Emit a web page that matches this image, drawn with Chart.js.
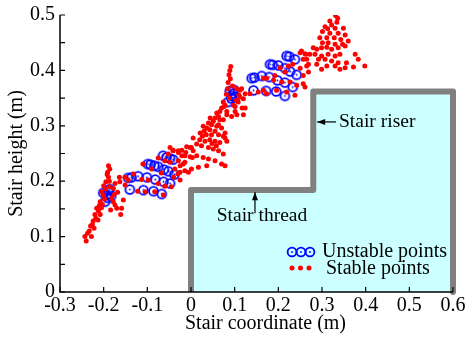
<!DOCTYPE html>
<html>
<head>
<meta charset="utf-8">
<script src="https://cdn.jsdelivr.net/npm/chart.js@4.4.1/dist/chart.umd.min.js"></script>
<style>
  html, body { margin: 0; padding: 0; background: #fff; }
  #wrap { width: 465px; height: 338px; }
</style>
</head>
<body>
<div id="wrap"><canvas id="stairChart" width="465" height="338"></canvas></div>
<script>
/* Stair stability scatter — unstable / stable foot points over the stair profile */

const xTicks = [-0.3, -0.2, -0.1, 0, 0.1, 0.2, 0.3, 0.4, 0.5, 0.6];
const yTicks = [0, 0.05, 0.1, 0.15, 0.2, 0.25, 0.3, 0.35, 0.4, 0.45, 0.5];

// stair profile (thread then riser)
const stairX = [0, 0, 0.28, 0.28, 0.6, 0.6];
const stairY = [0, 0.184, 0.184, 0.362, 0.362, 0];

const unstableLow = [
    [-0.189, 0.183], [-0.193, 0.175], [-0.183, 0.173], [-0.197, 0.163], [-0.186, 0.186], [-0.201, 0.179], [-0.190, 0.170],
    [-0.064, 0.246], [-0.056, 0.243], [-0.048, 0.241], [-0.041, 0.239],
    [-0.099, 0.231], [-0.093, 0.230], [-0.084, 0.228], [-0.075, 0.226], [-0.062, 0.221], [-0.052, 0.218], [-0.038, 0.212],
    [-0.144, 0.206], [-0.136, 0.207], [-0.121, 0.209], [-0.101, 0.207], [-0.082, 0.203], [-0.063, 0.199], [-0.048, 0.196],
    [-0.140, 0.185], [-0.109, 0.184], [-0.086, 0.182], [-0.067, 0.177]
];
const unstableHigh = [
    [0.089, 0.363], [0.097, 0.358], [0.093, 0.354], [0.101, 0.352], [0.085, 0.343], [0.093, 0.349], [0.098, 0.365],
    [0.219, 0.426], [0.225, 0.425], [0.238, 0.420],
    [0.181, 0.411], [0.187, 0.410], [0.200, 0.409], [0.215, 0.404], [0.227, 0.398], [0.242, 0.392],
    [0.139, 0.386], [0.145, 0.387], [0.162, 0.390], [0.179, 0.388], [0.198, 0.382], [0.215, 0.378], [0.233, 0.370],
    [0.143, 0.364], [0.172, 0.363], [0.195, 0.362], [0.215, 0.354]
];

const stableLeft = [
    [-0.240, 0.092], [-0.237, 0.106], [-0.233, 0.110], [-0.230, 0.119], [-0.224, 0.128], [-0.220, 0.140], [-0.216, 0.151],
    [-0.208, 0.140], [-0.208, 0.163], [-0.201, 0.175], [-0.228, 0.100], [-0.222, 0.115], [-0.213, 0.130], [-0.212, 0.146],
    [-0.205, 0.152], [-0.203, 0.158], [-0.198, 0.168], [-0.243, 0.100], [-0.226, 0.122], [-0.218, 0.133], [-0.210, 0.156],
    [-0.189, 0.228], [-0.186, 0.222], [-0.191, 0.216], [-0.189, 0.207], [-0.195, 0.199], [-0.192, 0.212], [-0.186, 0.190],
    [-0.205, 0.181], [-0.196, 0.186], [-0.200, 0.192], [-0.187, 0.200],
    [-0.182, 0.169], [-0.178, 0.163], [-0.174, 0.157], [-0.184, 0.148], [-0.170, 0.151], [-0.161, 0.140], [-0.159, 0.151],
    [-0.155, 0.166], [-0.178, 0.187], [-0.174, 0.196], [-0.163, 0.199], [-0.151, 0.193], [-0.144, 0.202], [-0.164, 0.207],
    [-0.151, 0.207], [-0.168, 0.180], [-0.176, 0.176]
];
const stableLower = [
    [-0.132, 0.213], [-0.113, 0.203], [-0.098, 0.202], [-0.075, 0.196], [-0.060, 0.191], [-0.045, 0.190], [-0.105, 0.181],
    [-0.083, 0.181], [-0.063, 0.175], [-0.122, 0.182],
    [-0.075, 0.242], [-0.060, 0.237], [-0.048, 0.234], [-0.037, 0.222], [-0.025, 0.228], [-0.014, 0.234], [-0.014, 0.219],
    [-0.025, 0.202], [-0.048, 0.261], [-0.041, 0.256], [-0.029, 0.255], [-0.021, 0.246], [-0.012, 0.252], [-0.002, 0.261],
    [0.005, 0.255], [0.003, 0.243], [-0.110, 0.231], [-0.090, 0.222], [-0.068, 0.215], [-0.040, 0.207], [-0.030, 0.213]
];
const stableMid = [
    [0.091, 0.407], [0.089, 0.400], [0.087, 0.392], [0.090, 0.385], [0.085, 0.378], [0.084, 0.367], [0.110, 0.355],
    [0.104, 0.346], [0.120, 0.349], [0.097, 0.337], [0.117, 0.332], [0.078, 0.337], [0.070, 0.332], [0.066, 0.326],
    [0.059, 0.323], [0.063, 0.317], [0.055, 0.314], [0.074, 0.311], [0.051, 0.308], [0.047, 0.302], [0.040, 0.305],
    [0.036, 0.296], [0.030, 0.290], [0.043, 0.293], [0.055, 0.290], [0.063, 0.284], [0.026, 0.281], [0.020, 0.275],
    [0.032, 0.272], [0.043, 0.275], [0.055, 0.272], [0.066, 0.270], [0.078, 0.278], [0.013, 0.267], [0.024, 0.264],
    [0.040, 0.261], [0.051, 0.258], [0.063, 0.255], [0.074, 0.249], [-0.010, 0.262], [0.001, 0.261], [-0.021, 0.256],
    [-0.029, 0.252], [-0.041, 0.255], [-0.014, 0.246], [-0.002, 0.244], [0.013, 0.246], [0.028, 0.243], [0.040, 0.240],
    [0.055, 0.237], [0.070, 0.231], [0.078, 0.228], [-0.018, 0.231], [0.001, 0.222], [0.017, 0.225], [0.036, 0.228],
    [-0.025, 0.216], [-0.006, 0.216], [-0.029, 0.237], [-0.052, 0.249], [0.101, 0.326], [0.093, 0.317], [0.082, 0.320],
    [0.070, 0.296], [0.078, 0.287], [0.063, 0.302], [0.047, 0.284], [0.005, 0.278], [0.120, 0.320], [0.105, 0.320],
    [0.082, 0.326], [0.074, 0.343], [0.066, 0.311], [0.059, 0.299], [0.044, 0.314], [0.028, 0.299], [0.021, 0.287],
    [0.074, 0.281], [0.082, 0.272], [0.105, 0.367], [0.112, 0.364], [0.112, 0.352], [0.108, 0.343], [0.076, 0.335],
    [0.101, 0.335], [0.088, 0.350], [0.081, 0.357], [0.095, 0.372], [0.058, 0.264], [0.048, 0.268], [0.035, 0.284]
];
const stableUpper = [
    [0.250, 0.432], [0.263, 0.429], [0.257, 0.420], [0.265, 0.408], [0.250, 0.404], [0.269, 0.397], [0.257, 0.391],
    [0.233, 0.411], [0.223, 0.408], [0.204, 0.405], [0.215, 0.397], [0.192, 0.391], [0.173, 0.386], [0.166, 0.386],
    [0.189, 0.382], [0.208, 0.379], [0.227, 0.379], [0.242, 0.373], [0.257, 0.376], [0.196, 0.364], [0.219, 0.361],
    [0.238, 0.355], [0.154, 0.361], [0.173, 0.358], [0.135, 0.358], [0.166, 0.364], [0.261, 0.370], [0.116, 0.367],
    [0.124, 0.358], [0.124, 0.332]
];
const stableTop = [
    [0.331, 0.499], [0.336, 0.494], [0.334, 0.487], [0.318, 0.489], [0.322, 0.482], [0.307, 0.479], [0.313, 0.475],
    [0.330, 0.476], [0.349, 0.476], [0.301, 0.470], [0.318, 0.467], [0.337, 0.467], [0.353, 0.464], [0.295, 0.459],
    [0.311, 0.459], [0.328, 0.459], [0.343, 0.456], [0.360, 0.453], [0.301, 0.450], [0.314, 0.450], [0.330, 0.447],
    [0.347, 0.447], [0.280, 0.441], [0.288, 0.438], [0.299, 0.441], [0.311, 0.442], [0.322, 0.438], [0.337, 0.441],
    [0.353, 0.444], [0.253, 0.435], [0.261, 0.430], [0.272, 0.429], [0.284, 0.429], [0.299, 0.426], [0.314, 0.429],
    [0.330, 0.426], [0.341, 0.429], [0.376, 0.429], [0.265, 0.420], [0.292, 0.420], [0.307, 0.420], [0.322, 0.417],
    [0.337, 0.414], [0.356, 0.414], [0.383, 0.420], [0.269, 0.411], [0.288, 0.411], [0.311, 0.408], [0.330, 0.408],
    [0.353, 0.405], [0.372, 0.406], [0.398, 0.408], [0.299, 0.402], [0.341, 0.402]
];

const unstablePoints = unstableLow.concat(unstableHigh);
const stablePoints = [].concat(stableLeft, stableLower, stableMid, stableUpper, stableTop);

const FONT = '"Liberation Serif", "Times New Roman", serif';
const BLUE = '#0000ff';
const RED = '#ff0000';

function drawRing(g, cx, cy) {
    g.strokeStyle = BLUE;
    g.lineWidth = 1.8;
    g.beginPath();
    g.arc(cx, cy, 4.4, 0, Math.PI * 2);
    g.stroke();
    g.fillStyle = BLUE;
    g.beginPath();
    g.arc(cx, cy, 0.9, 0, Math.PI * 2);
    g.fill();
}

function drawDot(g, cx, cy) {
    g.fillStyle = RED;
    g.beginPath();
    g.arc(cx, cy, 2.5, 0, Math.PI * 2);
    g.fill();
}

const ringImg = document.createElement('canvas');
ringImg.width = ringImg.height = 13;
drawRing(ringImg.getContext('2d'), 6.5, 6.5);

function arrow(ctx, x0, y0, x1, y1) {
    const ang = Math.atan2(y1 - y0, x1 - x0);
    ctx.beginPath();
    ctx.moveTo(x0, y0);
    ctx.lineTo(x1, y1);
    ctx.stroke();
    ctx.beginPath();
    ctx.moveTo(x1, y1);
    ctx.lineTo(x1 - 8 * Math.cos(ang) + 3 * Math.sin(ang), y1 - 8 * Math.sin(ang) - 3 * Math.cos(ang));
    ctx.lineTo(x1 - 8 * Math.cos(ang) - 3 * Math.sin(ang), y1 - 8 * Math.sin(ang) + 3 * Math.cos(ang));
    ctx.closePath();
    ctx.fill();
}

const decor = {
    id: 'decor',
    afterDatasetsDraw(chart) {
        const { ctx, chartArea: a, scales: { x, y } } = chart;
        ctx.save();

        // axes + inward ticks
        ctx.strokeStyle = '#000';
        ctx.lineWidth = 1.5;
        ctx.beginPath();
        ctx.moveTo(a.left, a.top);
        ctx.lineTo(a.left, a.bottom);
        ctx.lineTo(a.right, a.bottom);
        ctx.stroke();
        ctx.lineWidth = 1.2;
        ctx.beginPath();
        yTicks.forEach(v => {
            const py = y.getPixelForValue(v);
            ctx.moveTo(a.left, py);
            ctx.lineTo(a.left + 5, py);
        });
        xTicks.forEach(v => {
            const px = x.getPixelForValue(v);
            ctx.moveTo(px, a.bottom);
            ctx.lineTo(px, a.bottom - 5);
        });
        ctx.stroke();

        // x tick labels
        ctx.fillStyle = '#000';
        ctx.font = '20px ' + FONT;
        ctx.textAlign = 'center';
        ctx.textBaseline = 'middle';
        xTicks.forEach(v => {
            ctx.fillText(String(+v.toFixed(2)), x.getPixelForValue(v), a.bottom + 14);
        });

        // axis titles
        ctx.fillText('Stair coordinate (m)', (a.left + a.right) / 2 + 9, a.bottom + 32);
        ctx.save();
        ctx.translate(17, (a.top + a.bottom) / 2);
        ctx.rotate(-Math.PI / 2);
        ctx.fillText('Stair height (m)', 0, 0);
        ctx.restore();

        // annotations
        ctx.font = '19.5px ' + FONT;
        ctx.textAlign = 'left';
        ctx.lineWidth = 1.2;
        ctx.strokeStyle = '#000';
        arrow(ctx, x.getPixelForValue(0.332), y.getPixelForValue(0.307),
                   x.getPixelForValue(0.289), y.getPixelForValue(0.307));
        ctx.fillText('Stair riser', x.getPixelForValue(0.339), y.getPixelForValue(0.307));
        arrow(ctx, x.getPixelForValue(0.1465), y.getPixelForValue(0.142),
                   x.getPixelForValue(0.1465), y.getPixelForValue(0.180));
        ctx.fillText('Stair thread', x.getPixelForValue(0.059), y.getPixelForValue(0.137));

        // legend (three markers per entry)
        const lx = a.right - 161, ly = a.bottom - 40;
        [0, 9, 18].forEach(dx => drawRing(ctx, lx + dx, ly));
        [0, 8.5, 17].forEach(dx => drawDot(ctx, lx + dx, ly + 16));
        ctx.fillStyle = '#000';
        ctx.font = '20px ' + FONT;
        ctx.fillText('Unstable points', lx + 30, ly);
        ctx.fillText('Stable points', lx + 34, ly + 17);

        ctx.restore();
    }
};

new Chart(document.getElementById('stairChart'), {
    type: 'scatter',
    data: {
        datasets: [
            {
                label: 'Stable points',
                data: stablePoints.map(p => ({ x: p[0], y: p[1] })),
                pointStyle: 'circle',
                pointRadius: 2.5,
                pointBorderWidth: 0,
                backgroundColor: RED,
                borderColor: RED,
                order: 1
            },
            {
                label: 'Unstable points',
                data: unstablePoints.map(p => ({ x: p[0], y: p[1] })),
                pointStyle: ringImg,
                pointRadius: 5,
                order: 2
            },
            {
                type: 'line',
                label: 'Stair',
                data: stairX.map((v, i) => ({ x: v, y: stairY[i] })),
                borderColor: '#808080',
                backgroundColor: '#ccffff',
                borderWidth: 6,
                borderJoinStyle: 'round',
                fill: 'origin',
                pointRadius: 0,
                tension: 0,
                clip: false,
                order: 3
            }
        ]
    },
    options: {
        responsive: false,
        animation: false,
        devicePixelRatio: 1,
        layout: { padding: { top: 10, right: 12, left: 0, bottom: 0 } },
        plugins: {
            legend: { display: false },
            tooltip: { enabled: false }
        },
        scales: {
            x: {
                type: 'linear',
                min: -0.3,
                max: 0.6,
                grid: { display: false, drawTicks: false },
                border: { display: false },
                ticks: { display: false, stepSize: 0.1 },
                afterFit: s => { s.height = 46; }
            },
            y: {
                type: 'linear',
                min: 0,
                max: 0.5,
                grid: { display: false, drawTicks: false },
                border: { display: false },
                ticks: {
                    stepSize: 0.05,
                    padding: 5,
                    color: '#000',
                    font: { family: FONT, size: 20, lineHeight: 1 },
                    autoSkip: false,
                    callback: v => Math.abs(Math.round(v * 10) - v * 10) < 1e-6 ? String(+v.toFixed(1)) : ''
                },
                afterFit: s => { s.width = 60; }
            }
        }
    },
    plugins: [decor]
});
</script>
</body>
</html>
